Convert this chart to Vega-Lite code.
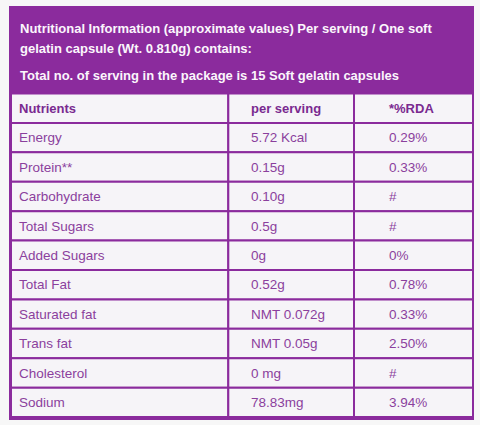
{
  "$schema": "https://vega.github.io/schema/vega-lite/v6.json",
  "width": 480,
  "height": 425,
  "autosize": {"type": "fit", "contains": "padding"},
  "padding": {"left": 9, "top": 6, "right": 6, "bottom": 5},
  "background": "#f7f7f7",
  "config": {
    "view": {"fill": "#8b2b9d", "stroke": null},
    "text": {"font": "Liberation Sans"}
  },
  "datasets": {
    "intro": [
      {"para": "a", "text": ["Nutritional Information (approximate values) Per serving / One soft", "gelatin capsule (Wt. 0.810g) contains:"]},
      {"para": "b", "text": "Total no. of serving in the package is 15 Soft gelatin capsules"}
    ],
    "table": [
      {"row": 0, "nutrient": "Nutrients", "serving": "per serving", "rda": "*%RDA"},
      {"row": 1, "nutrient": "Energy", "serving": "5.72 Kcal", "rda": "0.29%"},
      {"row": 2, "nutrient": "Protein**", "serving": "0.15g", "rda": "0.33%"},
      {"row": 3, "nutrient": "Carbohydrate", "serving": "0.10g", "rda": "#"},
      {"row": 4, "nutrient": "Total Sugars", "serving": "0.5g", "rda": "#"},
      {"row": 5, "nutrient": "Added Sugars", "serving": "0g", "rda": "0%"},
      {"row": 6, "nutrient": "Total Fat", "serving": "0.52g", "rda": "0.78%"},
      {"row": 7, "nutrient": "Saturated fat", "serving": "NMT 0.072g", "rda": "0.33%"},
      {"row": 8, "nutrient": "Trans fat", "serving": "NMT 0.05g", "rda": "2.50%"},
      {"row": 9, "nutrient": "Cholesterol", "serving": "0 mg", "rda": "#"},
      {"row": 10, "nutrient": "Sodium", "serving": "78.83mg", "rda": "3.94%"}
    ]
  },
  "layer": [
    {
      "data": {"name": "intro"},
      "mark": {"type": "text", "align": "left", "baseline": "alphabetic", "dx": 9, "fontSize": 13, "fontWeight": "bold", "lineHeight": 20, "color": "#fbf6fc"},
      "encoding": {
        "x": {"datum": 0, "type": "quantitative", "axis": null,
              "scale": {"domain": [0, 1, 2, 3], "range": [2, 219.3, 345, 464], "nice": false, "zero": false}},
        "y": {"field": "para", "type": "ordinal", "axis": null,
              "scale": {"type": "point", "domain": ["a", "b"], "range": [27.3, 74], "padding": 0}},
        "text": {"field": "text"}
      }
    },
    {
      "data": {"name": "table"},
      "encoding": {
        "y": {"field": "row", "type": "ordinal", "axis": null,
              "scale": {"type": "band", "range": [87.5, 411.1], "paddingInner": 0, "paddingOuter": 0}}
      },
      "layer": [
        {
          "mark": {"type": "rect", "fill": "#f6f4f8", "stroke": "#8b2b9d", "strokeWidth": 2},
          "encoding": {
            "x": {"datum": 0, "type": "quantitative", "axis": null},
            "x2": {"datum": 1}
          }
        },
        {
          "mark": {"type": "rect", "fill": "#f6f4f8", "stroke": "#8b2b9d", "strokeWidth": 2},
          "encoding": {
            "x": {"datum": 1, "type": "quantitative", "axis": null},
            "x2": {"datum": 2}
          }
        },
        {
          "mark": {"type": "rect", "fill": "#f6f4f8", "stroke": "#8b2b9d", "strokeWidth": 2},
          "encoding": {
            "x": {"datum": 2, "type": "quantitative", "axis": null},
            "x2": {"datum": 3}
          }
        },
        {
          "transform": [{"filter": "datum.row === 0"}],
          "mark": {"type": "text", "align": "left", "baseline": "alphabetic", "dx": 8, "dy": 4.7, "fontSize": 13, "fontWeight": "bold", "color": "#7a2a90"},
          "encoding": {"x": {"datum": 0, "type": "quantitative", "axis": null}, "text": {"field": "nutrient"}}
        },
        {
          "transform": [{"filter": "datum.row === 0"}],
          "mark": {"type": "text", "align": "left", "baseline": "alphabetic", "dx": 22.7, "dy": 4.7, "fontSize": 13, "fontWeight": "bold", "color": "#7a2a90"},
          "encoding": {"x": {"datum": 1, "type": "quantitative", "axis": null}, "text": {"field": "serving"}}
        },
        {
          "transform": [{"filter": "datum.row === 0"}],
          "mark": {"type": "text", "align": "left", "baseline": "alphabetic", "dx": 35, "dy": 4.7, "fontSize": 13, "fontWeight": "bold", "color": "#7a2a90"},
          "encoding": {"x": {"datum": 2, "type": "quantitative", "axis": null}, "text": {"field": "rda"}}
        },
        {
          "transform": [{"filter": "datum.row > 0"}],
          "mark": {"type": "text", "align": "left", "baseline": "alphabetic", "dx": 8, "dy": 4.7, "fontSize": 13.5, "color": "#8b3f9d"},
          "encoding": {"x": {"datum": 0, "type": "quantitative", "axis": null}, "text": {"field": "nutrient"}}
        },
        {
          "transform": [{"filter": "datum.row > 0"}],
          "mark": {"type": "text", "align": "left", "baseline": "alphabetic", "dx": 22.7, "dy": 4.7, "fontSize": 13.5, "color": "#8b3f9d"},
          "encoding": {"x": {"datum": 1, "type": "quantitative", "axis": null}, "text": {"field": "serving"}}
        },
        {
          "transform": [{"filter": "datum.row > 0"}],
          "mark": {"type": "text", "align": "left", "baseline": "alphabetic", "dx": 35, "dy": 4.7, "fontSize": 13.5, "color": "#8b3f9d"},
          "encoding": {"x": {"datum": 2, "type": "quantitative", "axis": null}, "text": {"field": "rda"}}
        }
      ]
    }
  ],
  "resolve": {"scale": {"y": "independent"}}
}
